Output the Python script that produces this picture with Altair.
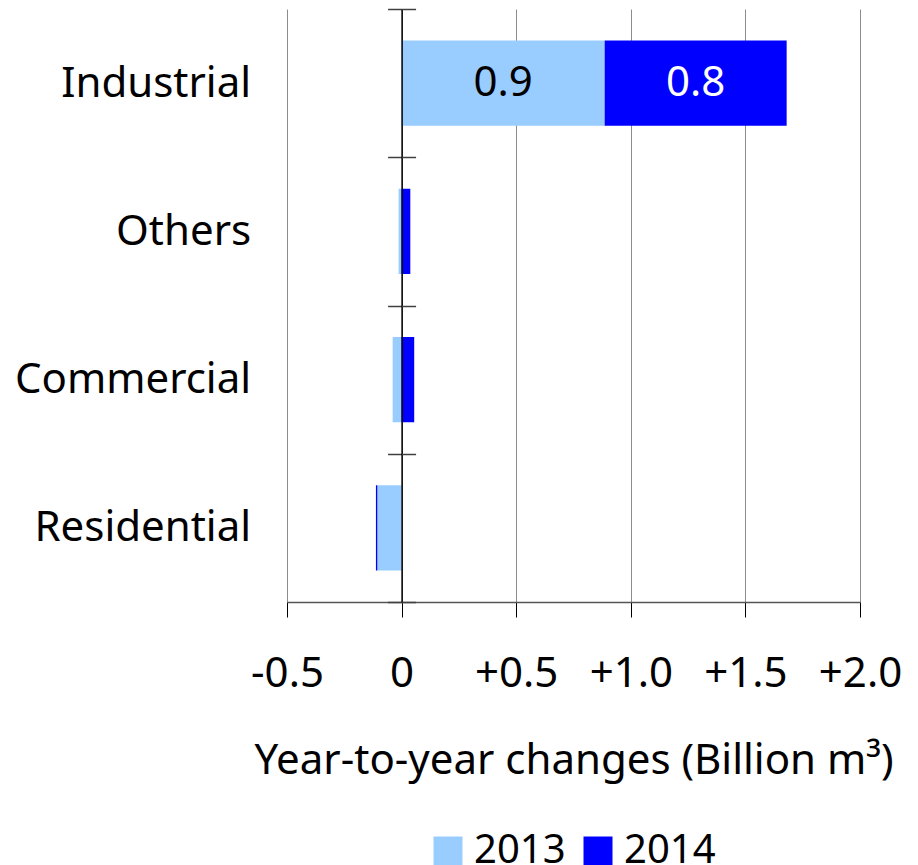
import altair as alt
import pandas as pd

categories = ["Industrial", "Others", "Commercial", "Residential"]
years = ["2013", "2014"]
v2013 = [0.886, -0.013, -0.039, -0.106]
v2014 = [0.794, 0.038, 0.055, -0.006]
x_ticks = [-0.5, 0, 0.5, 1.0, 1.5, 2.0]
label_categories = ["Industrial"]

rows = []
for c, a, b in zip(categories, v2013, v2014):
    rows.append({"cat": c, "year": "2013", "value": a})
    rows.append({"cat": c, "year": "2014", "value": b})
df = pd.DataFrame(rows)

FONT = "Noto Sans"
FS = 42
W, H = 573, 593
zero_px = W * 0.5 / 2.5

y_sort = categories

x_scale = alt.Scale(domain=[-0.5, 2.0], nice=False, zero=False)
x_axis = alt.Axis(
    values=x_ticks,
    labelExpr="datum.value > 0 ? '+' + format(datum.value, '.1f') : (datum.value == 0 ? '0' : '-' + format(abs(datum.value), '.1f'))",
    grid=True,
    gridColor="#8c8c8c",
    gridWidth=1,
    domainColor="#555555",
    domainWidth=1.5,
    tickColor="#000000",
    tickSize=15,
    tickWidth=1,
    labelPadding=36,
    labelFontSize=FS,
    labelColor="#000000",
    labelFlush=False,
    labelOverlap=False,
    title="Year-to-year changes (Billion m³)",
    titleFontSize=FS,
    titleFontWeight="normal",
    titleColor="#000000",
    titleBaseline="alphabetic",
    titleY=171,
)

bars = alt.Chart(df).mark_bar(height=alt.RelativeBandSize(0.575)).encode(
    x=alt.X("value:Q", stack="zero", scale=x_scale, axis=x_axis),
    y=alt.Y(
        "cat:N",
        sort=y_sort,
        scale=alt.Scale(paddingInner=0, paddingOuter=0),
        axis=alt.Axis(
            orient="left",
            offset=-zero_px,
            title=None,
            domain=True,
            domainColor="#000000",
            domainWidth=1.5,
            ticks=True,
            tickBand="extent",
            tickSize=14,
            tickColor="#404040",
            tickWidth=1.5,
            labelPadding=137,
            labelFontSize=FS,
            labelColor="#000000",
            labelLimit=0,
            zindex=1,
        ),
    ),
    color=alt.Color(
        "year:N",
        scale=alt.Scale(domain=years, range=["#99CCFF", "#0000FF"]),
        legend=alt.Legend(
            orient="none",
            legendX=141,
            legendY=822,
            direction="horizontal",
            title=None,
            symbolType="square",
            symbolSize=841,
            symbolStrokeWidth=0,
            symbolOpacity=1,
            labelFontSize=40,
            labelColor="#000000",
            labelOffset=6,
            columnPadding=12,
        ),
    ),
    order=alt.Order("year:N", sort="ascending"),
)

labels = alt.Chart(df).transform_stack(
    stack="value",
    groupby=["cat"],
    as_=["x0", "x1"],
    sort=[alt.SortField("year", order="ascending")],
).transform_calculate(
    mid="(datum.x0 + datum.x1) / 2",
    txt="format(datum.value, '.1f')",
).transform_filter(
    alt.FieldOneOfPredicate(field="cat", oneOf=label_categories)
).mark_text(fontSize=FS, align="center", baseline="middle").encode(
    x=alt.X("mid:Q", scale=x_scale, axis=x_axis),
    y=alt.Y(
        "cat:N",
        sort=y_sort,
        axis=alt.Axis(
            orient="right",
            offset=-(W - zero_px),
            title=None,
            domain=False,
            labels=False,
            ticks=True,
            tickBand="extent",
            tickSize=14,
            tickColor="#404040",
            tickWidth=1.5,
            grid=False,
            zindex=1,
        ),
    ),
    text="txt:N",
    color=alt.condition("datum.year == '2014'", alt.value("#FFFFFF"), alt.value("#000000")),
)

chart = alt.layer(bars, labels).resolve_axis(y="independent").properties(
    width=W,
    height=H,
    autosize=alt.AutoSizeParams(type="none"),
    padding={"left": 287, "top": 9, "right": 918 - 287 - W, "bottom": 865 - 9 - H},
).configure(font=FONT).configure_view(stroke=None)

chart.save("out.html", embed_options={"renderer": "svg", "actions": False})
